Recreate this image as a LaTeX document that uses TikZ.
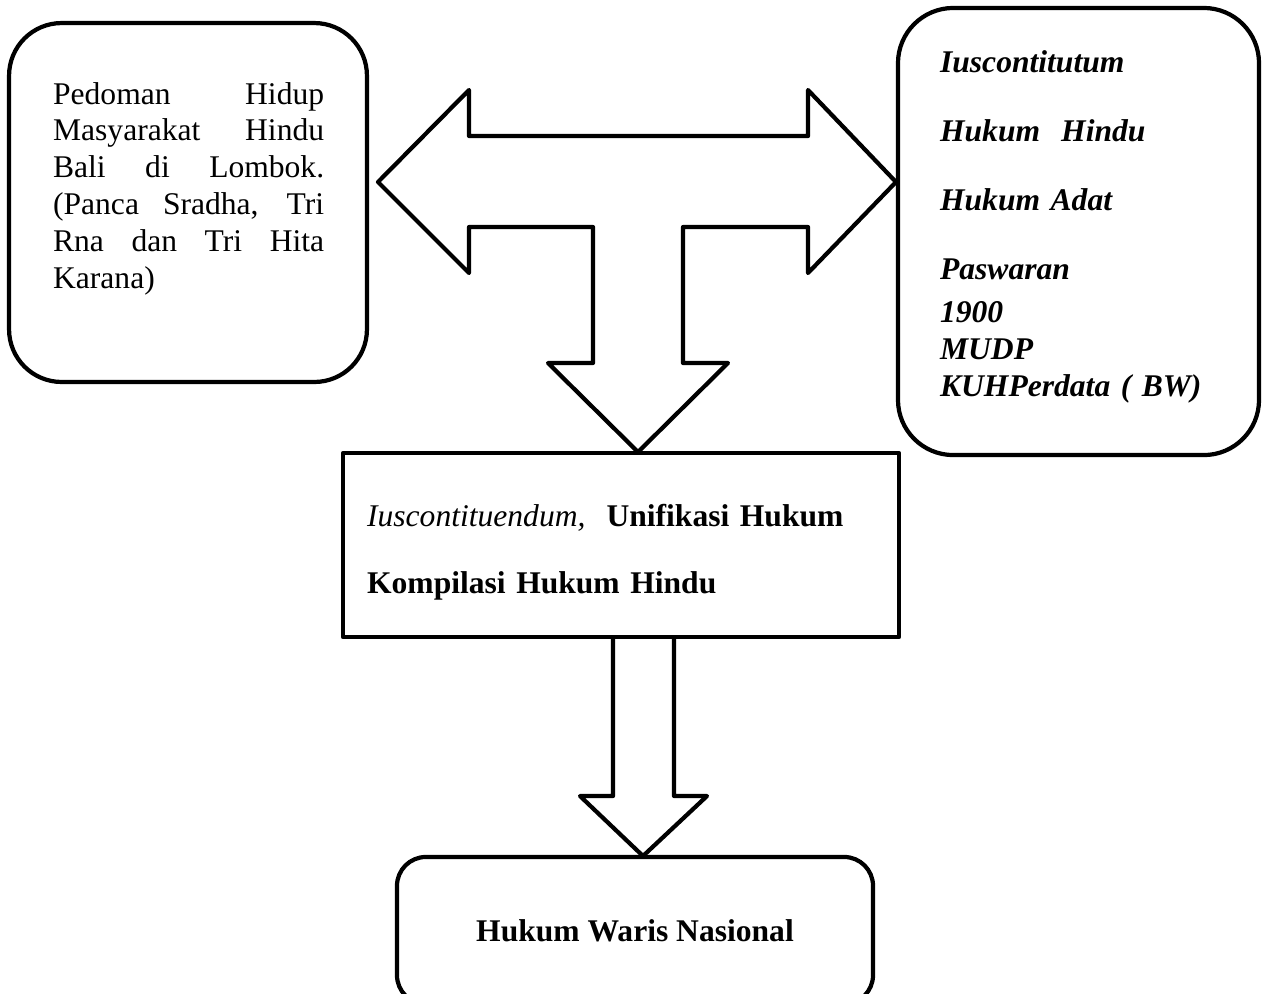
\documentclass[tikz,border=0pt]{standalone}
\usepackage{fontspec}
\setmainfont{Liberation Serif}

\begin{document}
\begin{tikzpicture}[x=0.38pt, y=-0.38pt, line width=1.6pt, line join=round,
    box/.style = {draw, inner sep=0pt},
    txt/.style = {anchor=base west, inner sep=0pt, font=\fontsize{12}{14}\selectfont}]
    \useasboundingbox (0,0) rectangle (1265,993);

    % boxes
    \node[box, rounded corners=20pt, minimum width=136pt, minimum height=136.4pt] (pedoman) at (188,202.5) {};
    \node[box, rounded corners=21pt, minimum width=137.2pt, minimum height=169.9pt] (konstitusi) at (1078.5,231.5) {};
    \node[box, minimum width=211.3pt, minimum height=69.9pt] (unifikasi) at (621,545) {};
    \node[box, rounded corners=11pt, minimum width=180.9pt, minimum height=55.9pt,
          font=\fontsize{12}{14}\selectfont\bfseries] (waris) at (635,930.5) {Hukum Waris Nasional};

    % texts
    \node[txt, text width=103pt, align=justify] (pedomantxt) at (51,104)
        {\tolerance=10000 \hbadness=10000
         Pedoman Hidup\linebreak Masyarakat Hindu\linebreak Bali di Lombok.\linebreak
         (Panca Sradha, Tri\linebreak Rna dan Tri Hita\linebreak Karana)};
    \node[txt, text width=130pt, align=left, font=\fontsize{12}{14}\selectfont\bfseries\itshape] (konstitusitxt) at (938,72)
        {Iuscontitutum\\[12.5pt] Hukum\ \ Hindu\\[12.2pt] Hukum Adat\\[12.3pt] Paswaran\\[2.3pt] 1900\\ MUDP\\ KUHPerdata ( BW)};
    \node[txt, text width=200pt, align=left] (unifikasitxt) at (365,526)
        {\textit{Iuscontituendum,}\ \ \textbf{Unifikasi Hukum}\\[11.5pt] \textbf{Kompilasi Hukum Hindu}};

    % T arrow between the three upper boxes
    \draw (378,182) -- (469,90) -- (469,136) -- (808,136) -- (808,90) -- (896,182)
        -- (808,273) -- (808,227) -- (683,227) -- (683,363) -- (728,363) -- (638,452)
        -- (548,363) -- (593,363) -- (593,227) -- (469,227) -- (469,273) -- cycle;

    % arrow down to waris
    \draw (613,637) -- (613,796) -- (580,796) -- (643,856) -- (707,796) -- (674,796) -- (674,637);

\end{tikzpicture}
\end{document}
